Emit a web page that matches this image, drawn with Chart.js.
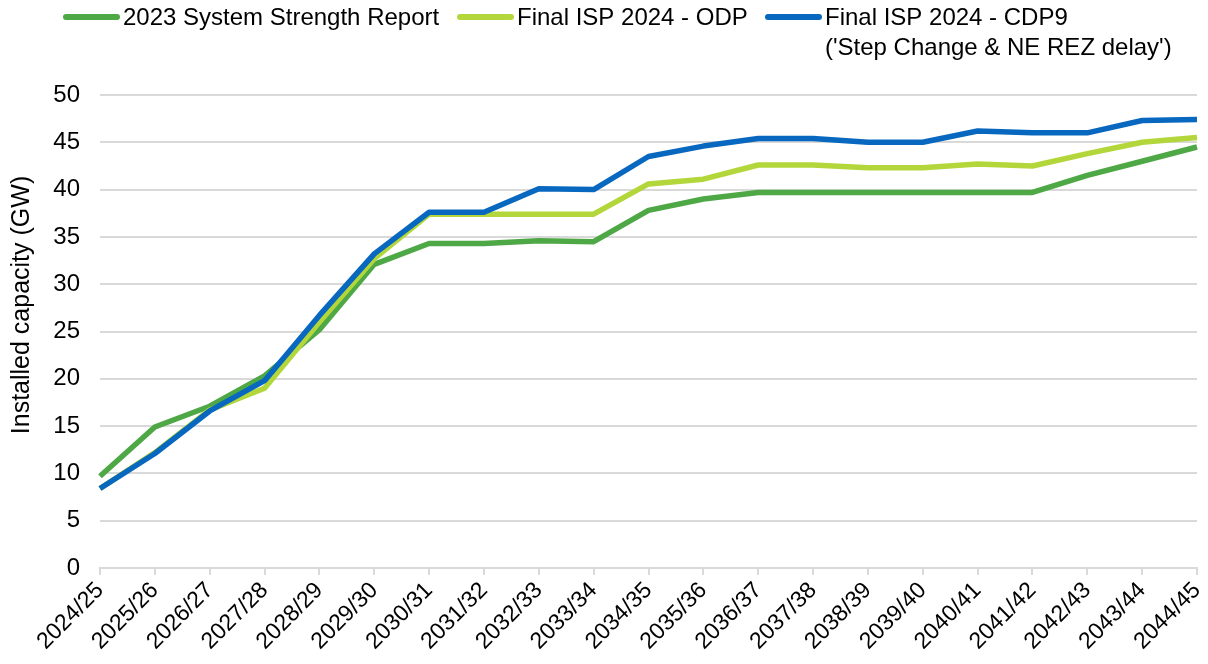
<!DOCTYPE html>
<html>
<head>
<meta charset="utf-8">
<script src="https://cdn.jsdelivr.net/npm/chart.js@4.4.0/dist/chart.umd.min.js"></script>
<style>
  html, body { margin: 0; padding: 0; background: #fff; }
</style>
</head>
<body>
<canvas id="chart" width="1208" height="664"></canvas>
<script>
// installed capacity, GW
const years = ['2024/25','2025/26','2026/27','2027/28','2028/29','2029/30','2030/31','2031/32','2032/33','2033/34',
  '2034/35','2035/36','2036/37','2037/38','2038/39','2039/40','2040/41','2041/42','2042/43','2043/44','2044/45'];

const ssr2023 = [9.7, 14.9, 17.1, 20.3, 25.2, 32.1, 34.3, 34.3, 34.6, 34.5,
  37.8, 39.0, 39.7, 39.7, 39.7, 39.7, 39.7, 39.7, 41.5, 43.0, 44.5];
const ispOdp = [8.4, 12.2, 16.7, 19.0, 26.0, 32.7, 37.4, 37.4, 37.4, 37.4,
  40.6, 41.1, 42.6, 42.6, 42.3, 42.3, 42.7, 42.5, 43.8, 45.0, 45.5];
const ispCdp9 = [8.4, 12.1, 16.6, 19.8, 26.7, 33.2, 37.6, 37.6, 40.1, 40.0,
  43.5, 44.6, 45.4, 45.4, 45.0, 45.0, 46.2, 46.0, 46.0, 47.3, 47.4];

const seriesNames = [
  ['2023 System Strength Report'],
  ['Final ISP 2024 - ODP'],
  ['Final ISP 2024 - CDP9', "('Step Change & NE REZ delay')"]
];
const yTitle = 'Installed capacity (GW)';

const FONT = '"Liberation Sans", Arial, sans-serif';
const colors = ['#4EA845', '#B3D73B', '#0868BF'];

// legend + y title drawn by hand (multi-line legend entry)
const legendX = [63, 457, 765];
const extrasPlugin = {
  id: 'extras',
  afterDraw(chart) {
    const ctx = chart.ctx;
    ctx.save();
    ctx.font = '24px ' + FONT;
    ctx.textBaseline = 'middle';
    ctx.lineCap = 'round';
    ctx.lineWidth = 6;
    chart.data.datasets.forEach((ds, i) => {
      const x = legendX[i];
      ctx.strokeStyle = ds.borderColor;
      ctx.beginPath();
      ctx.moveTo(x + 3, 17);
      ctx.lineTo(x + 54, 17);
      ctx.stroke();
      ctx.fillStyle = '#000';
      seriesNames[i].forEach((t, j) => ctx.fillText(t, x + 60, 18 + j * 30));
    });
    ctx.translate(22, 305);
    ctx.rotate(-Math.PI / 2);
    ctx.textAlign = 'center';
    ctx.font = '25px ' + FONT;
    ctx.fillText(yTitle, 0, 0);
    ctx.restore();
  }
};

const mkSet = (data, i, order) => ({
  label: seriesNames[i].join(' '),
  data,
  borderColor: colors[i],
  backgroundColor: colors[i],
  borderWidth: 5.5,
  pointRadius: 0,
  tension: 0,
  borderJoinStyle: 'round',
  order
});

new Chart(document.getElementById('chart').getContext('2d'), {
  type: 'line',
  data: {
    labels: years,
    datasets: [mkSet(ssr2023, 0, 2), mkSet(ispOdp, 1, 1), mkSet(ispCdp9, 2, 0)]
  },
  options: {
    responsive: false,
    animation: false,
    layout: { padding: { top: 95, right: 11, left: 0, bottom: 0 } },
    plugins: { legend: { display: false }, tooltip: { enabled: false } },
    scales: {
      x: {
        offset: false,
        afterFit: s => { s.height = 96; s.paddingRight = 0; s.paddingLeft = 0; },
        grid: { drawOnChartArea: false, drawTicks: true, tickLength: 7, color: '#D9D9D9', lineWidth: 2 },
        border: { display: true, color: '#D9D9D9', width: 2 },
        ticks: { minRotation: 45, maxRotation: 45, autoSkip: false, color: '#000', padding: 2, font: { family: FONT, size: 23 } }
      },
      y: {
        min: 0,
        max: 50,
        afterFit: s => { s.width = 100; },
        grid: { color: '#D9D9D9', lineWidth: 2, drawTicks: false },
        border: { display: false },
        ticks: { stepSize: 5, color: '#000', padding: 20, font: { family: FONT, size: 24 } }
      }
    }
  },
  plugins: [extrasPlugin]
});
</script>
</body>
</html>
